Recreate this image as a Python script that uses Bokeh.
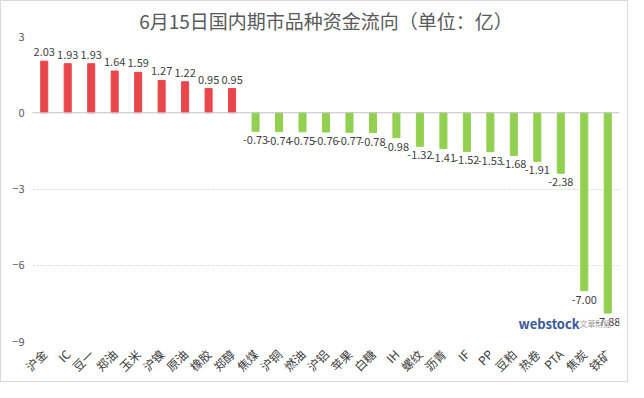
import math
from bokeh.plotting import figure
from bokeh.models import ColumnDataSource, FixedTicker, Span, Label, FactorRange
from bokeh.core.properties import value
from bokeh.embed import file_html
from bokeh.resources import INLINE

title_text = "6月15日国内期市品种资金流向（单位：亿）"
categories = ["沪金", "IC", "豆一", "郑油", "玉米", "沪镍", "原油", "橡胶", "郑醇",
              "焦煤", "沪铜", "燃油", "沪铝", "苹果", "白糖", "IH", "螺纹", "沥青",
              "IF", "PP", "豆粕", "热卷", "PTA", "焦炭", "铁矿"]
values = [2.03, 1.93, 1.93, 1.64, 1.59, 1.27, 1.22, 0.95, 0.95,
          -0.73, -0.74, -0.75, -0.76, -0.77, -0.78, -0.98, -1.32, -1.41,
          -1.52, -1.53, -1.68, -1.91, -2.38, -7.00, -7.88]
y_ticks = [3, 0, -3, -6, -9]

RED = "#E9464B"
GREEN = "#92D050"
FONT = "Noto Sans CJK SC"

colors = [RED if v >= 0 else GREEN for v in values]
labels = ["%.2f" % v for v in values]
pos_src = ColumnDataSource(dict(
    x=[c for c, v in zip(categories, values) if v >= 0],
    top=[v for v in values if v >= 0],
    lab=[l for l, v in zip(labels, values) if v >= 0]))
neg_src = ColumnDataSource(dict(
    x=[c for c, v in zip(categories, values) if v < 0],
    top=[v for v in values if v < 0],
    lab=[l for l, v in zip(labels, values) if v < 0]))
src = ColumnDataSource(dict(x=categories, top=values, color=colors))

p = figure(width=628, height=382, x_range=FactorRange(*categories),
           y_range=(-9, 3), output_backend="svg", toolbar_location=None,
           min_border_left=31, min_border_right=10, min_border_top=26,
           min_border_bottom=40)
p.title.text = title_text
p.title.align = "center"
p.title.offset = 12
p.title.standoff = 6
p.title.text_font = FONT
p.title.text_font_size = "19px"
p.title.text_font_style = "normal"
p.title.text_color = "#595959"
p.outline_line_color = None
p.styles = {"border": "1px solid #d9d9d9"}

p.vbar(x="x", top="top", bottom=0, width=0.3, color="color", source=src)

p.text(x="x", y="top", text="lab", source=pos_src, text_align="center",
       text_baseline="bottom", y_offset=-5, text_font=value(FONT),
       text_font_size="11px", text_color="#404040")
p.text(x="x", y="top", text="lab", source=neg_src, text_align="center",
       text_baseline="top", y_offset=5, text_font=value(FONT),
       text_font_size="11px", text_color="#404040")

p.add_layout(Span(location=0, dimension="width", line_color="#c8c8c8", line_width=1))

p.xgrid.grid_line_color = None
p.ygrid.ticker = FixedTicker(ticks=y_ticks)
p.ygrid.grid_line_color = "#d9d9d9"
p.ygrid.grid_line_dash = "2 2"

p.yaxis.ticker = FixedTicker(ticks=y_ticks)
p.yaxis.axis_line_color = None
p.yaxis.major_tick_line_color = None
p.yaxis.major_tick_out = 0
p.yaxis.major_tick_in = 0
p.yaxis.minor_tick_line_color = None
p.yaxis.major_label_text_font = FONT
p.yaxis.major_label_text_font_size = "11px"
p.yaxis.major_label_text_color = "#595959"
p.yaxis.major_label_standoff = 8

p.xaxis.axis_line_color = None
p.xaxis.major_tick_line_color = None
p.xaxis.major_tick_out = 0
p.xaxis.major_tick_in = 0
p.xaxis.major_label_orientation = math.pi / 4
p.xaxis.major_label_text_font = FONT
p.xaxis.major_label_text_font_size = "12px"
p.xaxis.major_label_text_line_height = 1.0
p.xaxis.major_label_text_color = "#404040"
p.xaxis.major_label_standoff = 10

p.add_layout(Label(x=20.7, y=-8.3, text="webstock", text_font=FONT,
                   text_font_size="13px", text_font_style="bold",
                   text_color="#3B5A99", text_baseline="middle"))
p.add_layout(Label(x=23.3, y=-8.3, text="文華財經", text_font=FONT,
                   text_font_size="8px", text_color="#a0a0a0",
                   text_baseline="middle"))

open("out.html", "w").write(file_html(p, INLINE))
